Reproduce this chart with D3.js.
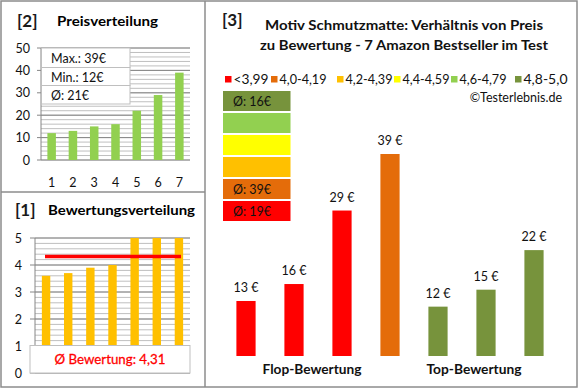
<!DOCTYPE html>
<html>
<head>
<meta charset="utf-8">
<script src="https://cdn.jsdelivr.net/npm/d3@7"></script>
<style>
  body { margin: 0; background: #fff; }
  svg { display: block; font-family: Lato, "Open Sans", sans-serif; }
</style>
</head>
<body>
<svg id="chart" width="580" height="390"></svg>
<script>
// products (sorted by group as in the main chart)
var products = ["1", "2", "3", "4", "5", "6", "7"];
var prices = [13, 16, 29, 39, 12, 15, 22];
var ratings = [3.6, 3.7, 3.9, 4.0, 5.0, 5.0, 5.0];

// rating classes for the legend
var classLabels = ["<3,99", "4,0-4,19", "4,2-4,39", "4,4-4,59", "4,6-4,79", "4,8-5,0"];
var classColors = ["#FF0000", "#E46C0A", "#FFC000", "#FFFF00", "#92D050", "#77933C"];
var classLimits = [4.0, 4.2, 4.4, 4.6, 4.8];

var groupLabels = ["Flop-Bewertung", "Top-Bewertung"];

var svg = d3.select("#chart");

function classOf(r) { return d3.bisectRight(classLimits, r); }
function fmt(v) { return d3.format(".2f")(v).replace(".", ",").replace(/0$/, ""); }

// ---- frame ----
svg.append("rect").attr("x", 1).attr("y", 1).attr("width", 576).attr("height", 386)
  .attr("fill", "none").attr("stroke", "#8c8c8c").attr("stroke-width", 1.5);
svg.append("line").attr("x1", 205).attr("x2", 205).attr("y1", 1).attr("y2", 387)
  .attr("stroke", "#8c8c8c").attr("stroke-width", 1.5);
svg.append("line").attr("x1", 1).attr("x2", 205).attr("y1", 192).attr("y2", 192)
  .attr("stroke", "#8c8c8c").attr("stroke-width", 1.5);

function panelTitle(num, x1, label, x2, y, w) {
  svg.append("text").attr("x", x1).attr("y", y).attr("font-size", 17).attr("font-weight", "bold")
    .attr("fill", "#1a1a1a").text(num);
  svg.append("text").attr("x", x2).attr("y", y - 1).attr("font-size", 13.5).attr("font-weight", "bold")
    .attr("fill", "#000").attr("textLength", w).attr("lengthAdjust", "spacingAndGlyphs").text(label);
}

// generic small column chart with minor/major grid
function gridChart(g, y, xr, majors, minors, tickX) {
  g.selectAll(".minor").data(minors).enter().append("line")
    .attr("x1", xr[0]).attr("x2", xr[1])
    .attr("y1", function(d) { return y(d); }).attr("y2", function(d) { return y(d); })
    .attr("stroke", "#BFBFBF").attr("stroke-width", 1);
  g.selectAll(".major").data(majors).enter().append("line")
    .attr("x1", tickX).attr("x2", xr[1])
    .attr("y1", function(d) { return y(d); }).attr("y2", function(d) { return y(d); })
    .attr("stroke", "#868686").attr("stroke-width", 1);
  g.append("line").attr("x1", xr[0]).attr("x2", xr[0])
    .attr("y1", y.range()[0]).attr("y2", y.range()[1])
    .attr("stroke", "#868686");
}

// ---- [2] Preisverteilung ----
panelTitle("[2]", 17, "Preisverteilung", 57, 27, 101);
var sorted = prices.slice().sort(d3.ascending);
var x2 = d3.scaleBand().domain(products).range([41, 190]).paddingInner(0.6).paddingOuter(0.3);
var y2 = d3.scaleLinear().domain([0, 50]).range([160, 48]);
var g2 = svg.append("g");
gridChart(g2, y2, [41, 190], d3.range(0, 51, 10), d3.range(0, 51, 2), 37);
g2.selectAll(".bar").data(sorted).enter().append("rect")
  .attr("x", function(d, i) { return x2(products[i]); })
  .attr("width", x2.bandwidth())
  .attr("y", function(d) { return y2(d); })
  .attr("height", function(d) { return y2(0) - y2(d); })
  .attr("fill", "#92D050");
g2.selectAll(".yl").data(d3.range(0, 51, 10)).enter().append("text")
  .attr("x", 30).attr("y", function(d) { return y2(d) + 4.5; })
  .attr("text-anchor", "end").attr("font-size", 12.5).attr("fill", "#111").text(function(d) { return d; });
g2.selectAll(".xl").data(products).enter().append("text")
  .attr("x", function(d) { return x2(d) + x2.bandwidth() / 2; }).attr("y", 187)
  .attr("text-anchor", "middle").attr("font-size", 12.5).attr("fill", "#111").text(function(d) { return d; });

var info = ["Max.: " + d3.max(prices) + "€", "Min.: " + d3.min(prices) + "€",
            "Ø: " + Math.round(d3.mean(prices)) + "€"];
var infoY = [48, 67.5, 85.5, 104];
info.forEach(function(t, i) {
  g2.append("rect").attr("x", 41.5).attr("y", infoY[i]).attr("width", 88.5).attr("height", infoY[i + 1] - infoY[i])
    .attr("fill", "#fff").attr("stroke", "#bfbfbf");
});
info.forEach(function(t, i) {
  g2.append("text").attr("x", 51).attr("y", infoY[i] + 14.5).attr("font-size", 12.5).attr("fill", "#111").text(t);
});

// ---- [1] Bewertungsverteilung ----
panelTitle("[1]", 15, "Bewertungsverteilung", 48, 216, 147);
var sortedR = ratings.slice().sort(d3.ascending);
var x1 = d3.scaleBand().domain(products).range([35, 190]).paddingInner(0.62).paddingOuter(0.31);
var y1 = d3.scaleLinear().domain([0, 5]).range([373, 238]);
var g1 = svg.append("g");
gridChart(g1, y1, [35, 190], d3.range(0, 6, 1), d3.range(0, 5.01, 0.2), 30);
g1.selectAll(".bar").data(sortedR).enter().append("rect")
  .attr("x", function(d, i) { return x1(products[i]); })
  .attr("width", x1.bandwidth())
  .attr("y", function(d) { return y1(d); })
  .attr("height", function(d) { return y1(0) - y1(d); })
  .attr("fill", "#FFC000");
var avgR = d3.mean(ratings);
g1.append("line").attr("x1", 45).attr("x2", 181)
  .attr("y1", y1(avgR)).attr("y2", y1(avgR))
  .attr("stroke", "#FF0000").attr("stroke-width", 3.5);
g1.selectAll(".yl").data(d3.range(0, 6)).enter().append("text")
  .attr("x", 22).attr("y", function(d) { return y1(d) + 4.5; })
  .attr("text-anchor", "end").attr("font-size", 12.5).attr("fill", "#111").text(function(d) { return d; });
g1.append("rect").attr("x", 30).attr("y", y1(1) - 0.5).attr("width", 160).attr("height", y1(0) - y1(1) + 0.5)
  .attr("fill", "#fff").attr("stroke", "#bfbfbf");
g1.append("text").attr("x", 110).attr("y", 363.5).attr("text-anchor", "middle")
  .attr("font-size", 14).attr("fill", "#FF0000").attr("stroke", "#FF0000").attr("stroke-width", 0.3)
  .attr("textLength", 111).attr("lengthAdjust", "spacingAndGlyphs")
  .text("Ø Bewertung: " + fmt(avgR));

// ---- [3] main chart ----
svg.append("text").attr("x", 222).attr("y", 26).attr("font-size", 17).attr("font-weight", "bold")
  .attr("fill", "#1a1a1a").text("[3]");
svg.append("text").attr("x", 404).attr("y", 29.5).attr("text-anchor", "middle")
  .attr("font-size", 14).attr("font-weight", "bold").attr("fill", "#111")
  .attr("textLength", 278).attr("lengthAdjust", "spacingAndGlyphs")
  .text("Motiv Schmutzmatte: Verhältnis von Preis");
svg.append("text").attr("x", 404).attr("y", 50).attr("text-anchor", "middle")
  .attr("font-size", 14).attr("font-weight", "bold").attr("fill", "#111")
  .attr("textLength", 288).attr("lengthAdjust", "spacingAndGlyphs")
  .text("zu Bewertung - 7 Amazon Bestseller im Test");

// legend
var legX = [225, 271, 337, 394, 451, 515];
var legW = [35, 47, 47, 47, 47, 44];
var leg = svg.append("g").selectAll("g").data(classLabels).enter().append("g")
  .attr("transform", function(d, i) { return "translate(" + legX[i] + ",76)"; });
leg.append("rect").attr("width", 6.5).attr("height", 6.5)
  .attr("fill", function(d, i) { return classColors[i]; });
leg.append("text").attr("x", 8.5).attr("y", 7.5).attr("font-size", 12.5).attr("fill", "#111")
  .attr("textLength", function(d, i) { return legW[i]; }).attr("lengthAdjust", "spacingAndGlyphs")
  .text(function(d) { return d; });

svg.append("text").attr("x", 562).attr("y", 101.5).attr("text-anchor", "end")
  .attr("font-size", 12.5).attr("fill", "#111").text("©Testerlebnis.de");

// stacked class boxes with average prices
var stack = svg.append("g");
var boxData = classLabels.map(function(d, i) {
  var ps = prices.filter(function(p, j) { return classOf(ratings[j]) === i; });
  return { c: i, avg: ps.length ? Math.round(d3.mean(ps)) : null };
}).reverse();
stack.selectAll("rect").data(boxData).enter().append("rect")
  .attr("x", 223).attr("y", function(d, i) { return 91 + i * 22; })
  .attr("width", 67.5).attr("height", 20)
  .attr("fill", function(d) { return classColors[d.c]; });
stack.selectAll("text").data(boxData.filter(function(d) { return d.avg !== null; })).enter().append("text")
  .attr("x", 233).attr("y", function(d) { return 91 + (5 - d.c) * 22 + 14.5; })
  .attr("font-size", 12.5).attr("fill", "#111")
  .text(function(d) { return "Ø: " + d.avg + "€"; });

// main bars
var x3 = d3.scaleBand().domain(products).range([222, 558]).paddingInner(0.6).paddingOuter(0.3);
var y3 = d3.scaleLinear().domain([3.27, 39]).range([356, 154]);
var g3 = svg.append("g");
g3.selectAll("rect").data(prices).enter().append("rect")
  .attr("x", function(d, i) { return x3(products[i]); })
  .attr("width", x3.bandwidth())
  .attr("y", function(d) { return y3(d); })
  .attr("height", function(d) { return y3.range()[0] - y3(d); })
  .attr("fill", function(d, i) { return classColors[classOf(ratings[i])]; });
g3.selectAll("text").data(prices).enter().append("text")
  .attr("x", function(d, i) { return x3(products[i]) + x3.bandwidth() / 2; })
  .attr("y", function(d) { return y3(d) - 9; })
  .attr("text-anchor", "middle").attr("font-size", 12.5).attr("fill", "#111")
  .text(function(d) { return d + " €"; });

var groupX = [312, 474], groupW = [99, 95];
groupLabels.forEach(function(t, i) {
  svg.append("text").attr("x", groupX[i]).attr("y", 374).attr("text-anchor", "middle")
    .attr("font-size", 14).attr("font-weight", "bold").attr("fill", "#111")
    .attr("textLength", groupW[i]).attr("lengthAdjust", "spacingAndGlyphs").text(t);
});
</script>
</body>
</html>
